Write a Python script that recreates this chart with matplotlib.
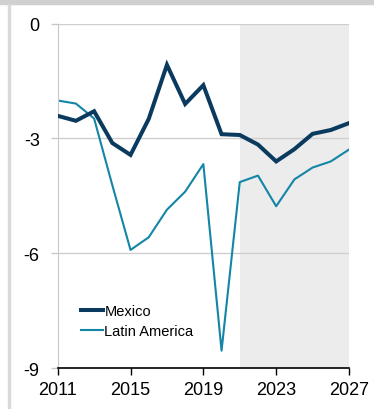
import matplotlib.pyplot as plt
from matplotlib.patches import Rectangle

plt.rcParams['font.family'] = ['Liberation Sans Narrow', 'Liberation Sans', 'DejaVu Sans']

years = list(range(2011, 2028))
mexico = [-2.41, -2.54, -2.29, -3.12, -3.43, -2.49, -1.08, -2.10, -1.61, -2.89,
          -2.91, -3.16, -3.60, -3.28, -2.88, -2.78, -2.60]
latam = [-2.01, -2.09, -2.48, -4.22, -5.91, -5.58, -4.86, -4.39, -3.67, -8.54,
         -4.14, -3.97, -4.77, -4.07, -3.76, -3.60, -3.29]
xticks = [2011, 2015, 2019, 2023, 2027]
yticks = [0, -3, -6, -9]
forecast_start = 2021

fig = plt.figure(figsize=(3.74, 4.10), dpi=100)

# thin grey frame pieces: band along the top, rule down the left
fig.patches.append(Rectangle((0, 1 - 5 / 410), 1, 5 / 410, transform=fig.transFigure,
                             color='#d0d0d0', zorder=0))
fig.patches.append(Rectangle((8 / 374, 0), 2.5 / 374, 1 - 5 / 410, transform=fig.transFigure,
                             color='#d9d9d9', zorder=0))

ax = fig.add_axes([57.7 / 374, 40.7 / 410, (349 - 57.7) / 374, (369.3 - 24.5) / 410])

ax.axvspan(forecast_start, 2027, color='#ececec', lw=0, zorder=0)
for y in yticks[:-1]:
    ax.axhline(y, color='#cfcfcf', lw=1, zorder=1)

ax.plot(years, mexico, color='#0b3a5f', lw=2.9, label='Mexico', zorder=3,
        solid_joinstyle='miter')
ax.plot(years, latam, color='#1385a6', lw=1.5, label='Latin America', zorder=2)

ax.set_xlim(2011, 2027)
ax.set_ylim(-9, 0)
ax.set_xticks(xticks)
ax.set_yticks(yticks)
ax.set_yticklabels([str(v) for v in yticks])

for s in ['top', 'right']:
    ax.spines[s].set_visible(False)
ax.spines['left'].set_color('#c8c8c8')
ax.spines['bottom'].set_color('black')
ax.spines['bottom'].set_linewidth(1.2)

ax.tick_params(axis='x', direction='out', length=5, width=1, color='black',
               labelsize=13, pad=4)
ax.tick_params(axis='y', direction='out', length=5, width=1, color='#c8c8c8',
               labelsize=13, pad=8)

leg = ax.legend(loc='lower left', bbox_to_anchor=(0.06, 0.07), frameon=False,
                fontsize=10.5, handlelength=1.5, handletextpad=0.1,
                labelspacing=0.45, borderaxespad=0)

fig.savefig('out.png', dpi=100)
